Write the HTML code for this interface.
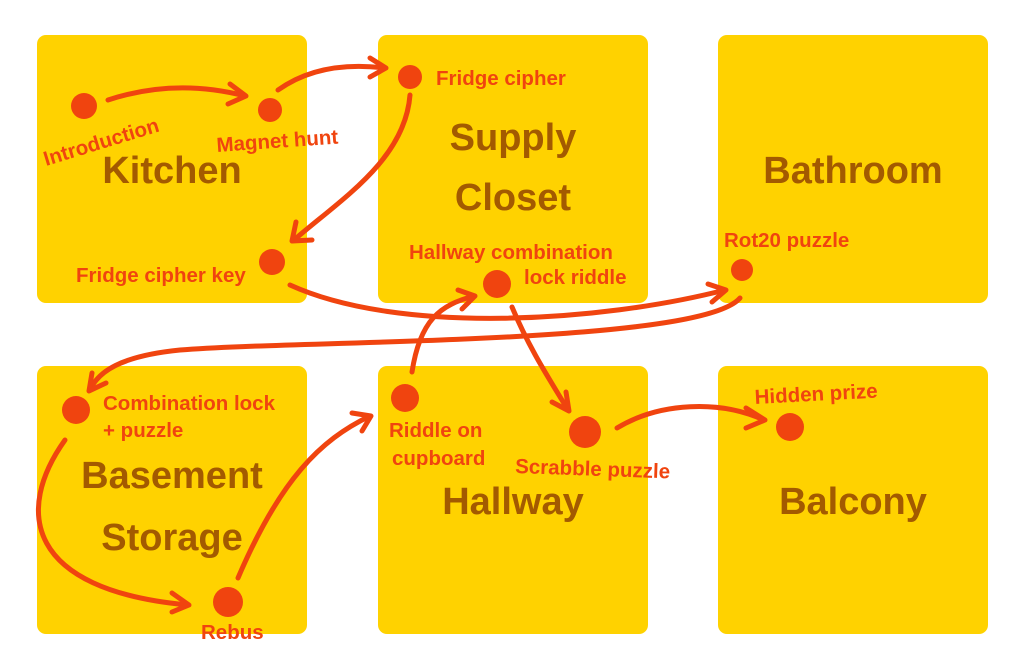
<!DOCTYPE html>
<html><head><meta charset="utf-8"><style>
html,body{margin:0;padding:0;background:#fff;}
svg{display:block;}
.box{fill:#FFD200;}
.t{font-family:"Liberation Sans",sans-serif;font-weight:bold;fill:#A35A00;font-size:38px;text-anchor:middle;}
.l{font-family:"Liberation Sans",sans-serif;font-weight:bold;fill:#F0440F;font-size:20.5px;}
.a{fill:none;stroke:#F0440F;stroke-width:5;stroke-linecap:round;stroke-linejoin:round;}
.d{fill:#F0440F;}
</style></head><body>
<svg width="1024" height="669" viewBox="0 0 1024 669" xmlns="http://www.w3.org/2000/svg">
<rect class="box" x="37" y="35" width="270" height="268" rx="9"/>
<rect class="box" x="378" y="35" width="270" height="268" rx="9"/>
<rect class="box" x="718" y="35" width="270" height="268" rx="9"/>
<rect class="box" x="37" y="366" width="270" height="268" rx="9"/>
<rect class="box" x="378" y="366" width="270" height="268" rx="9"/>
<rect class="box" x="718" y="366" width="270" height="268" rx="9"/>

<text class="t" x="172" y="183">Kitchen</text>
<text class="t" x="513" y="150">Supply</text>
<text class="t" x="513" y="210">Closet</text>
<text class="t" x="853" y="183">Bathroom</text>
<text class="t" x="172" y="488">Basement</text>
<text class="t" x="172" y="550">Storage</text>
<text class="t" x="513" y="514">Hallway</text>
<text class="t" x="853" y="514">Balcony</text>

<!-- arrows -->
<path class="a" d="M108,100 Q175,78 245,96"/><path class="a" d="M230,84 L246,96 L228,104"/>
<path class="a" d="M278,90 Q320,60 385,68"/><path class="a" d="M370,58 L386,68 L370,77"/>
<path class="a" d="M410,95 C405,160 340,200 294,240"/><path class="a" d="M296,222 L292,241 L312,240"/>
<path class="a" d="M290,285 C400,335 600,322 725,290"/><path class="a" d="M708,284 L726,290 L712,302"/>
<path class="a" d="M740,298 C700,345 300,340 180,350 C120,356 98,372 90,390"/><path class="a" d="M92,373 L89,391 L106,383"/>
<path class="a" d="M65,440 C15,510 25,590 188,605"/><path class="a" d="M172,593 L189,605 L172,612"/>
<path class="a" d="M238,578 C280,480 320,440 370,416"/><path class="a" d="M352,413 L371,416 L362,431"/>
<path class="a" d="M412,372 C420,320 440,305 474,296"/><path class="a" d="M458,290 L475,296 L462,309"/>
<path class="a" d="M512,307 C530,350 550,380 568,410"/><path class="a" d="M566,392 L569,411 L552,402"/>
<path class="a" d="M617,428 C660,402 720,400 764,420"/><path class="a" d="M746,408 L765,420 L746,428"/>

<!-- dots -->
<circle class="d" cx="84" cy="106" r="13"/>
<circle class="d" cx="270" cy="110" r="12"/>
<circle class="d" cx="410" cy="77" r="12"/>
<circle class="d" cx="272" cy="262" r="13"/>
<circle class="d" cx="497" cy="284" r="14"/>
<circle class="d" cx="742" cy="270" r="11"/>
<circle class="d" cx="76" cy="410" r="14"/>
<circle class="d" cx="405" cy="398" r="14"/>
<circle class="d" cx="585" cy="432" r="16"/>
<circle class="d" cx="790" cy="427" r="14"/>
<circle class="d" cx="228" cy="602" r="15"/>

<!-- labels -->
<text class="l" transform="translate(46,166) rotate(-17)">Introduction</text>
<text class="l" transform="translate(217,152) rotate(-4)">Magnet hunt</text>
<text class="l" x="436" y="85">Fridge cipher</text>
<text class="l" x="76" y="282">Fridge cipher key</text>
<text class="l" x="409" y="259">Hallway combination</text>
<text class="l" x="524" y="284">lock riddle</text>
<text class="l" x="724" y="247">Rot20 puzzle</text>
<text class="l" x="103" y="410">Combination lock</text>
<text class="l" x="103" y="437">+ puzzle</text>
<text class="l" x="389" y="437">Riddle on</text>
<text class="l" x="392" y="465">cupboard</text>
<text class="l" transform="translate(515,473) rotate(2)">Scrabble puzzle</text>
<text class="l" transform="translate(755,404) rotate(-3)">Hidden prize</text>
<text class="l" x="201" y="639">Rebus</text>
</svg>
</body></html>
